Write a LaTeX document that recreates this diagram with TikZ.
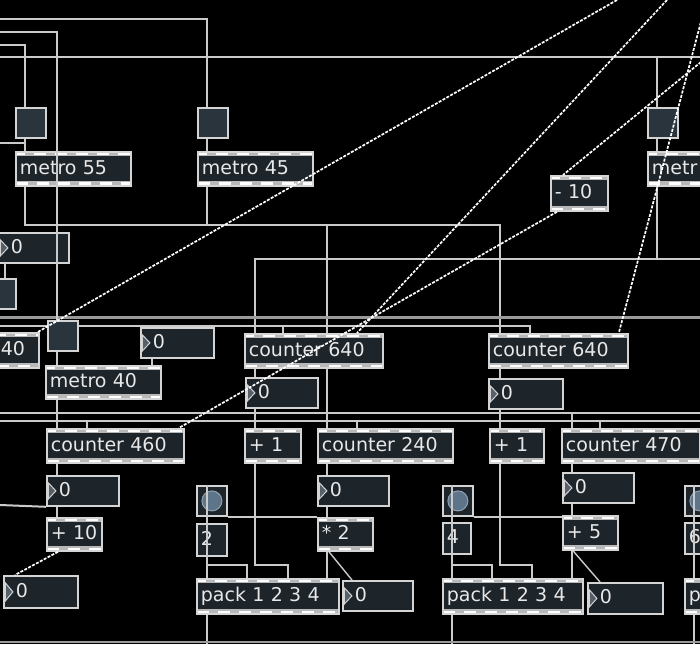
\documentclass[tikz,border=0pt]{standalone}
\usepackage{fontspec}
\newfontfamily\maxfont{DejaVu Sans}
\pgfdeclarelayer{bg}
\pgfdeclarelayer{cords}
\pgfsetlayers{bg,cords,main}
\definecolor{boxfill}{HTML}{1D242A}
\definecolor{bordc}{HTML}{D4D4D4}
\definecolor{barc}{HTML}{B8B8B8}
\definecolor{cordc}{HTML}{CACACA}
\definecolor{cordd}{HTML}{9A9A9A}
\definecolor{txtc}{HTML}{E8E8E8}
\definecolor{togfill}{HTML}{2A343D}
\definecolor{bangc}{HTML}{5E7488}
\definecolor{bangr}{HTML}{8FA2B4}
\definecolor{trifill}{HTML}{56606A}
\tikzset{
  cord/.style={draw=cordc, line width=2pt},
  thincord/.style={draw=cordc, line width=1.4pt},
  sig/.style={draw=white, line width=1.7pt, dash pattern=on 3pt off 1.4pt},
  maxtext/.style={font=\maxfont\fontsize{19}{21}\selectfont, text=txtc, text height=13.5pt, text depth=3pt, align=left},
  obj/.style 2 args={draw=bordc, line width=1.8pt, fill=boxfill, anchor=north west,
    minimum width=#1pt, minimum height=#2pt, text width=#1pt-8pt, inner xsep=4pt, inner ysep=0pt, maxtext,
    path picture={
      \fill[barc] (path picture bounding box.north west) rectangle ([yshift=-4.5pt]path picture bounding box.north east);
      \fill[barc] (path picture bounding box.south west) rectangle ([yshift=4.5pt]path picture bounding box.south east);
      \draw[white, line width=2.4pt, dash pattern=on 12pt off 9pt, dash phase=3pt] ([yshift=-2.2pt]path picture bounding box.north west) -- ([yshift=-2.2pt]path picture bounding box.north east);
      \draw[white, line width=2.4pt, dash pattern=on 12pt off 9pt] ([yshift=2.2pt]path picture bounding box.south west) -- ([yshift=2.2pt]path picture bounding box.south east);
    }},
  numbox/.style 2 args={draw=bordc, line width=1.8pt, fill=boxfill, anchor=north west,
    minimum width=#1pt, minimum height=#2pt, text width=#1pt-8pt, inner xsep=4pt, inner ysep=0pt, maxtext,
    execute at begin node={\hspace*{8pt}},
    path picture={
      \draw[bordc, line width=1pt, fill=trifill] ([xshift=1.5pt,yshift=-7pt]path picture bounding box.north west) -- ([xshift=9pt]path picture bounding box.west) -- ([xshift=1.5pt,yshift=7pt]path picture bounding box.south west) -- cycle;
    }},
  msg/.style 2 args={draw=bordc, line width=1.8pt, fill=boxfill, anchor=north west,
    minimum width=#1pt, minimum height=#2pt, text width=#1pt-8pt, inner xsep=4pt, inner ysep=0pt, maxtext},
  tog/.style={draw=bordc, line width=2pt, fill=togfill, anchor=north west, minimum width=30pt, minimum height=30pt, inner sep=0pt},
  bang/.style={draw=bordc, line width=1.8pt, fill=boxfill, anchor=north west, minimum width=30pt, minimum height=30pt, inner sep=0pt,
    path picture={\fill[bangc] (path picture bounding box.center) circle (10pt); \draw[bangr, line width=1pt] (path picture bounding box.center) circle (10pt);}}
}
\begin{document}
\begin{tikzpicture}[x=1pt,y=-1pt]
\useasboundingbox (0,0) rectangle (700,644);
\begin{pgfonlayer}{bg}
\fill[black] (0,0) rectangle (700,644);
\end{pgfonlayer}

% free ends and junction rows
\coordinate (eL19) at (0,19);
\coordinate (eL32) at (0,32);
\coordinate (eL45) at (0,45);
\coordinate (eL57) at (0,57);
\coordinate (eR57) at (700,57);
\coordinate (eL143) at (0,143);
\coordinate (j225) at (0,225);
\coordinate (j259) at (0,259);
\coordinate (eR259) at (700,259);
\coordinate (eL317) at (0,317);
\coordinate (eR317) at (700,317);
\coordinate (eL326) at (0,326);
\coordinate (eL413) at (0,413);
\coordinate (eR413) at (700,413);
\coordinate (eL421) at (0,421);
\coordinate (eR421) at (700,421);
\coordinate (eL505) at (0,505);
\coordinate (j565) at (0,565);
\coordinate (eL642) at (0,642);
\coordinate (eR642) at (700,642);
\coordinate (bot) at (0,644);
\coordinate (tp617) at (617,0);
\coordinate (tp667) at (667,0);
\coordinate (rt63) at (701,62);
\coordinate (rt15) at (703,14);

% objects
\node[tog] (tA) at (15,107) {};
\node[obj={115}{34}] (m55) at (15,151) {metro 55};
\node[tog] (tB) at (197,107) {};
\node[obj={115}{34}] (m45) at (197,151) {metro 45};
\node[tog] (tC) at (647,107) {};
\node[obj={80}{34}] (mR) at (647,151) {metr};
\node[obj={57}{35}] (mn10) at (550,175) {- 10};
\node[numbox={70}{30}] (nL) at (-2,232) {0};
\node[tog] (tL) at (-15,278) {};
\node[obj={42}{35}] (c40) at (-4,332) {40};
\node[tog] (tD) at (47,320) {};
\node[numbox={73}{30}] (nD) at (140,327) {0};
\node[obj={115}{33}] (m40) at (45,365) {metro 40};
\node[obj={138}{34}] (c640a) at (244,333) {counter 640};
\node[numbox={72}{30}] (n640a) at (245,377) {0};
\node[obj={139}{34}] (c640b) at (488,333) {counter 640};
\node[numbox={74}{30}] (n640b) at (488,378) {0};
\node[obj={137}{34}] (c460) at (46,428) {counter 460};
\node[obj={56}{34}] (p1a) at (244,428) {+ 1};
\node[obj={135}{34}] (c240) at (317,428) {counter 240};
\node[obj={54}{34}] (p1b) at (489,428) {+ 1};
\node[obj={138}{34}] (c470) at (561,428) {counter 470};
\node[numbox={72}{30}] (n460) at (46,475) {0};
\node[obj={55}{33}] (p10) at (46,517) {+ 10};
\node[numbox={74}{32}] (n10) at (3,575) {0};
\node[bang] (bA) at (196,485) {};
\node[msg={30}{32}] (two) at (196,523) {2};
\node[numbox={71}{30}] (n240) at (317,475) {0};
\node[obj={55}{33}] (t2) at (317,517) {* 2};
\node[obj={142}{35}] (packA) at (196,578) {pack 1 2 3 4};
\node[numbox={70}{30}] (n2) at (342,580) {0};
\node[bang] (bB) at (442,485) {};
\node[msg={28}{31}] (four) at (442,522) {4};
\node[obj={140}{35}] (packB) at (442,578) {pack 1 2 3 4};
\node[numbox={71}{30}] (n470) at (562,472) {0};
\node[obj={55}{34}] (p5) at (562,515) {+ 5};
\node[numbox={75}{31}] (n5) at (587,582) {0};
\node[bang] (bC) at (684,485) {};
\node[msg={30}{31}] (six) at (684,522) {6};
\node[obj={60}{35}] (packC) at (684,578) {p};

\begin{pgfonlayer}{cords}
\draw[cord] (eL19) -| ([xshift=10pt]tB.north west);
\draw[cord] (eL45) -| ([xshift=10pt]tA.north west);
\draw[cord] (eL57) -- (eR57);
\draw[cord] ([xshift=10pt]tC.north west |- eL57) -- ([xshift=10pt]tC.north west);
\draw[cord] (eL143) -- ([xshift=10pt]tA.south west |- eL143);
\draw[cord] ([xshift=10pt]tA.south west) -- ([xshift=10pt]m55.north west);
\draw[cord] ([xshift=10pt]tB.south west) -- ([xshift=10pt]m45.north west);
\draw[cord] ([xshift=10pt]tC.south west) -- ([xshift=10pt]mR.north west);
\draw[cord] ([xshift=10pt]m55.south west) -- ([xshift=10pt]m55.south west |- j225) -| ([xshift=12pt]c640b.north west);
\draw[cord] ([xshift=10pt]m45.south west) -- ([xshift=10pt]m45.south west |- j225);
\draw[cord] ([xshift=10pt]c240.north west |- j225) -- ([xshift=10pt]c240.north west);
\draw[cord] ([xshift=10pt]mR.south west) -- ([xshift=10pt]mR.south west |- j259) -| ([xshift=11pt]c640a.north west);
\draw[cord] ([xshift=10pt]mR.south west |- j259) -- (eR259);
\draw[draw=cordd, line width=3pt] (eL317) -- (eR317);
\draw[cord] (eL326) -| ([xshift=42pt]c640b.north west);
\draw[cord] ([xshift=39pt]c640a.north west |- eL326) -- ([xshift=39pt]c640a.north west);
\draw[cord] ([xshift=7pt]nL.south west) -- ([xshift=7pt]nL.south west |- tL.north);
\draw[cord] ([xshift=10pt]tD.south west) -- ([xshift=12pt]m40.north west);
\draw[cord] ([xshift=12pt]nD.south west) -- ([xshift=12pt]nD.south west |- m40.north);
\draw[cord] ([xshift=12pt]m40.south west) -- ([xshift=11pt]c460.north west);
\draw[cord] ([xshift=11pt]c640a.south west) -- ([xshift=10pt]n640a.north west);
\draw[cord] ([xshift=10pt]n640a.south west) -- ([xshift=11pt]p1a.north west);
\draw[cord] ([xshift=12pt]c640b.south west) -- ([xshift=12pt]n640b.north west);
\draw[cord] ([xshift=12pt]n640b.south west) -- ([xshift=11pt]p1b.north west);
\draw[cord] (eL413) -- (eR413);
\draw[cord] (eL421) -- (eR421);
\draw[cord] ([xshift=41pt]c460.north west |- eL421) -- ([xshift=41pt]c460.north west);
\draw[cord] ([xshift=40pt]c240.north west |- eL421) -- ([xshift=40pt]c240.north west);
\draw[cord] ([xshift=11pt]c470.north west |- eL413) -- ([xshift=11pt]c470.north west);
\draw[cord] ([xshift=39pt]c470.north west |- eL421) -- ([xshift=39pt]c470.north west);
\draw[cord] ([xshift=11pt]c460.south west) -- ([xshift=11pt]n460.north west);
\draw[cord] ([xshift=11pt]n460.south west) -- ([xshift=11pt]p10.north west);
\draw[cord] (eL505) -- (n460.south west);
\draw[cord] ([xshift=10pt]c240.south west) -- ([xshift=10pt]n240.north west);
\draw[cord] ([xshift=10pt]n240.south west) -- ([xshift=10pt]t2.north west);
\draw[cord] ([xshift=10pt]t2.south west) -- ([xshift=131pt]packA.north west);
\draw[thincord] ([xshift=12pt]t2.south west) -- ([xshift=10pt]n2.north west);
\draw[cord] (bA.south east) -- (bA.south east -| t2.north west);
\draw[cord] ([xshift=11pt]packA.south west) -- ([xshift=11pt]packA.south west |- bot);
\draw[cord] ([xshift=11pt]two.south west |- j565) -| ([xshift=51pt]packA.north west);
\draw[cord] ([xshift=11pt]p1a.south west) -- ([xshift=11pt]p1a.south west |- j565) -| ([xshift=92pt]packA.north west);
\draw[cord] ([xshift=10pt]packB.south west) -- ([xshift=10pt]packB.south west |- bot);
\draw[cord] ([xshift=10pt]four.south west |- j565) -| ([xshift=50pt]packB.north west);
\draw[cord] ([xshift=11pt]p1b.south west) -- ([xshift=11pt]p1b.south west |- j565) -| ([xshift=90pt]packB.north west);
\draw[cord] (bB.south east) -- (bB.south east -| p5.north west);
\draw[cord] ([xshift=11pt]c470.south west) -- ([xshift=10pt]n470.north west);
\draw[cord] ([xshift=10pt]n470.south west) -- ([xshift=10pt]p5.north west);
\draw[cord] ([xshift=10pt]p5.south west) -- ([xshift=130pt]packB.north west);
\draw[thincord] ([xshift=11pt]p5.south west) -- ([xshift=13pt]n5.north west);
\draw[cord] ([xshift=10pt]packC.south west) -- ([xshift=10pt]packC.south west |- bot);
\draw[draw=cordd, line width=2pt] (eL642) -- (eR642);
\end{pgfonlayer}

% cords drawn over objects
\draw[cord] (eL32) -| ([xshift=10pt]tD.north west);
\draw[cord] ([xshift=11pt]bA.north west) -- ([xshift=11pt]packA.north west);
\draw[cord] ([xshift=10pt]bB.north west) -- ([xshift=10pt]packB.north west);
\draw[cord] ([xshift=10pt]bC.north west) -- ([xshift=10pt]packC.north west);
\draw[sig] ([xshift=12pt]p10.south west) -- ([xshift=12pt]n10.north west);
\draw[sig] (tp617) -- ([xshift=-2pt]c40.north east);
\draw[sig] (tp667) -- ([xshift=113pt]c640a.north west);
\draw[sig] (rt63) -- ([xshift=13pt]mn10.north west);
\draw[sig] ([xshift=7pt]mn10.south west) -- ([xshift=-6pt]c460.north east);
\draw[sig] (rt15) -- ([xshift=-10pt]c640b.north east);
\end{tikzpicture}
\end{document}
